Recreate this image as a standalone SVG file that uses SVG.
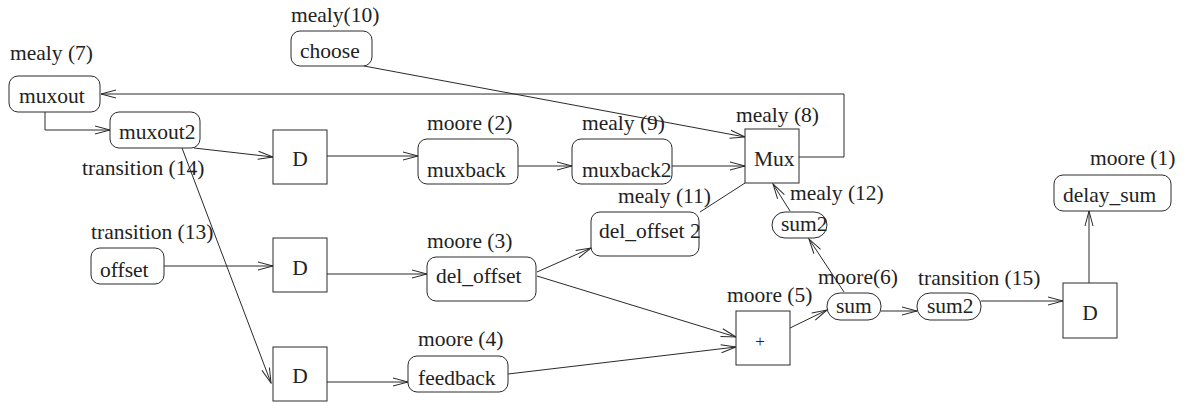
<svg xmlns="http://www.w3.org/2000/svg" width="1187" height="403" viewBox="0 0 1187 403">
<defs>
<marker id="arr" viewBox="-16 -5 17 10" markerWidth="17" markerHeight="10" refX="0" refY="0" orient="auto" markerUnits="userSpaceOnUse">
<path d="M -15 -4 L 0 0 L -15 4" fill="none" stroke="#2a2a2a" stroke-width="1"/>
</marker>
</defs>
<style>
text{font-family:"Liberation Serif","Times New Roman",serif;font-size:21.5px;fill:#222}
.c{text-anchor:middle}
.n{fill:#fff;stroke:#2a2a2a;stroke-width:1}
.e{fill:none;stroke:#2a2a2a;stroke-width:1}
.a{marker-end:url(#arr)}
</style>
<rect width="1187" height="403" fill="#fff"/>
<g id="connectors">
<polyline class="e a" points="799,157 844,157 844,94 101,94"/>
<polyline class="e a" points="45,112 45,130 110,130"/>
<line class="e a" x1="194" y1="148" x2="273" y2="157"/>
<line class="e a" x1="182" y1="148" x2="271" y2="383"/>
<line class="e a" x1="364" y1="66" x2="745" y2="137"/>
<line class="e a" x1="327" y1="156" x2="418" y2="156"/>
<line class="e a" x1="518" y1="166" x2="572" y2="166"/>
<line class="e a" x1="672" y1="166" x2="745" y2="166"/>
<line class="e a" x1="164" y1="266" x2="273" y2="266"/>
<line class="e a" x1="327" y1="274" x2="427" y2="274"/>
<line class="e a" x1="537" y1="272" x2="591" y2="248"/>
<line class="e" x1="700" y1="212" x2="745" y2="183"/>
<line class="e a" x1="537" y1="276" x2="736" y2="337"/>
<line class="e a" x1="327" y1="382" x2="408" y2="382"/>
<line class="e a" x1="508" y1="374" x2="736" y2="347"/>
<line class="e a" x1="790" y1="328" x2="827" y2="310"/>
<line class="e a" x1="844" y1="292" x2="809" y2="239"/>
<line class="e a" x1="790" y1="211" x2="773" y2="184"/>
<line class="e a" x1="881" y1="311" x2="917" y2="311"/>
<line class="e a" x1="981" y1="301" x2="1063" y2="301"/>
<line class="e a" x1="1089" y1="283" x2="1089" y2="211"/>
</g>
<g id="muxout"><rect class="n" x="9" y="76" width="91" height="36" rx="9"/><text x="19" y="103">muxout</text><text x="10" y="60">mealy (7)</text></g>
<g id="muxout2"><rect class="n" x="110" y="112" width="90" height="36" rx="9"/><text x="119" y="139">muxout2</text><text x="82" y="175">transition (14)</text></g>
<g id="choose"><rect class="n" x="291" y="31" width="81" height="35" rx="9"/><text x="300" y="58">choose</text><text x="291" y="22">mealy(10)</text></g>
<g id="d1"><rect class="n" x="273" y="130" width="54" height="54"/><text class="c" x="300" y="166">D</text></g>
<g id="muxback"><rect class="n" x="418" y="139" width="100" height="45" rx="9"/><text x="427" y="177">muxback</text><text x="427" y="130">moore (2)</text></g>
<g id="muxback2"><rect class="n" x="572" y="139" width="100" height="45" rx="9"/><text x="582" y="177">muxback2</text><text x="582" y="130">mealy (9)</text></g>
<g id="mux"><rect class="n" x="745" y="129" width="54" height="54"/><text x="754" y="166">Mux</text><text x="736" y="122">mealy (8)</text></g>
<g id="offset"><rect class="n" x="91" y="248" width="73" height="36" rx="9"/><text x="100" y="277">offset</text><text x="91" y="239">transition (13)</text></g>
<g id="d2"><rect class="n" x="273" y="238" width="54" height="54"/><text class="c" x="300" y="275">D</text></g>
<g id="del_offset"><rect class="n" x="427" y="257" width="109" height="44" rx="9"/><text x="436" y="283">del_offset</text><text x="427" y="248">moore (3)</text></g>
<g id="del_offset2"><rect class="n" x="591" y="212" width="108" height="44" rx="9"/><text x="599" y="238">del_offset 2</text><text x="618" y="203">mealy (11)</text></g>
<g id="sum2_upper"><rect class="n" x="772" y="212" width="55" height="26" rx="13"/><text x="781" y="231">sum2</text><text x="790" y="200">mealy (12)</text></g>
<g id="d3"><rect class="n" x="273" y="347" width="54" height="54"/><text class="c" x="300" y="383">D</text></g>
<g id="feedback"><rect class="n" x="408" y="356" width="100" height="36" rx="9"/><text x="418" y="385">feedback</text><text x="418" y="346">moore (4)</text></g>
<g id="plus"><rect class="n" x="736" y="311" width="54" height="54"/><text class="c" x="760" y="347" style="font-size:17px">+</text><text x="727" y="302">moore (5)</text></g>
<g id="sum"><rect class="n" x="827" y="293" width="54" height="27" rx="13"/><text x="836" y="313">sum</text><text x="818" y="284">moore(6)</text></g>
<g id="sum2_lower"><rect class="n" x="917" y="293" width="64" height="27" rx="13"/><text x="927" y="313">sum2</text><text x="918" y="285">transition (15)</text></g>
<g id="d4"><rect class="n" x="1063" y="283" width="54" height="55"/><text class="c" x="1090" y="320">D</text></g>
<g id="delay_sum"><rect class="n" x="1054" y="175" width="117" height="36" rx="9"/><text x="1063" y="202">delay_sum</text><text x="1090" y="165">moore (1)</text></g>
</svg>
